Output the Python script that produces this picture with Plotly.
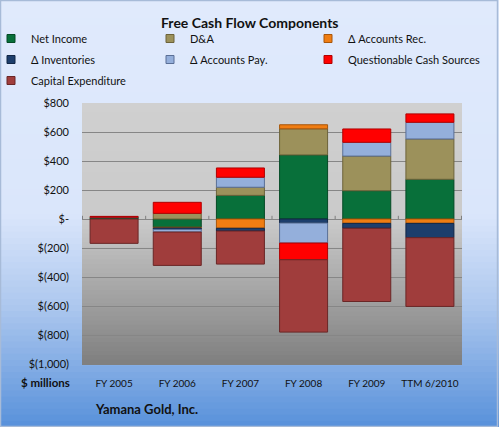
import plotly.graph_objects as go

# ── data (US$ millions) ──────────────────────────────────────
categories = ['FY 2005', 'FY 2006', 'FY 2007', 'FY 2008', 'FY 2009', 'TTM 6/2010']
net_income = [12, -57, 163, 442, 195, 274]
d_and_a = [0, 39, 56, 180, 239, 278]
accounts_rec = [0, -5, -64, 28, -30, -30]
inventories = [0, -10, -19, -28, -34, -99]
accounts_pay = [0, -18, 69, -138, 95, 115]
questionable = [6, 76, 64, -115, 92, 58]
capex = [-168, -230, -228, -499, -505, -474]

tick_vals = [800, 600, 400, 200, 0, -200, -400, -600, -800, -1000]
tick_text = ['$800', '$600', '$400', '$200', '$-', '$(200)', '$(400)',
             '$(600)', '$(800)', '$(1,000)']

# ── page geometry ────────────────────────────────────────────
W, H = 499, 427
L, R, T, B = 82, 37, 103, 63
PW, PH = W - L - R, H - T - B
FONT = 'Lato'


def px_x(px):
    return (px - L) / PW


def px_y(py):
    return (H - B - py) / PH


def mix(stops, f):
    for (f0, c0), (f1, c1) in zip(stops, stops[1:]):
        if f <= f1:
            t = 0 if f1 == f0 else (f - f0) / (f1 - f0)
            rgb = [round(a + (b - a) * t) for a, b in zip(c0, c1)]
            return 'rgb({},{},{})'.format(*rgb)
    return 'rgb({},{},{})'.format(*stops[-1][1])


series = [
    ('Net Income', net_income, '#08703a', '#044a25', 'legend'),
    ('D&A', d_and_a, '#9c915b', '#6c633a', 'legend2'),
    ('Δ Accounts Rec.', accounts_rec, '#f07d12', '#a8560a', 'legend3'),
    ('Δ Inventories', inventories, '#1d3e6c', '#112645', 'legend'),
    ('Δ Accounts Pay.', accounts_pay, '#94afdb', '#5a6f96', 'legend2'),
    ('Questionable Cash Sources', questionable, '#ff0000', '#b00000', 'legend3'),
    ('Capital Expenditure', capex, '#a03d3c', '#6a2626', 'legend'),
]

fig = go.Figure()
for name, vals, color, edge, leg in series:
    fig.add_trace(go.Bar(
        x=categories, y=vals, name=name, marker_color=color,
        marker_line=dict(color=edge, width=1), showlegend=False,
        legendgroup=name,
    ))
# small square legend keys (Excel style)
for name, vals, color, edge, leg in series:
    fig.add_trace(go.Scatter(
        x=[None], y=[None], mode='markers', name=name, legend=leg,
        legendgroup=name,
        marker=dict(symbol='square', size=8, color=color,
                    line=dict(color=edge, width=1)),
    ))

shapes = []
# figure background gradient
bg_stops = [(0, (224, 234, 252)), (0.5, (218, 230, 251)),
            (0.72, (172, 199, 238)), (1, (88, 145, 219))]
n = 70
for i in range(n):
    y0, y1 = H * i / n, H * (i + 1) / n + 1
    shapes.append(dict(type='rect', xref='paper', yref='paper', layer='below',
                       x0=px_x(0), x1=px_x(W), y0=px_y(y1), y1=px_y(y0),
                       fillcolor=mix(bg_stops, (i + 0.5) / n), line_width=0))
# plot-area gradient
pa_stops = [(0, (208, 208, 208)), (0.45, (202, 202, 202)), (1, (127, 127, 127))]
m = 60
for i in range(m):
    shapes.append(dict(type='rect', xref='paper', yref='paper', layer='below',
                       x0=0, x1=1, y0=1 - (i + 1) / m - 0.004, y1=1 - i / m,
                       fillcolor=mix(pa_stops, (i + 0.5) / m), line_width=0))
# small ticks on the category axis
for k in range(len(categories) + 1):
    shapes.append(dict(type='line', xref='x', yref='y', x0=k - 0.5, x1=k - 0.5,
                       y0=0, y1=22, line=dict(color='#7f7f7f', width=1)))
# outer frame
shapes.append(dict(type='rect', xref='paper', yref='paper',
                   x0=px_x(0.5), x1=px_x(W - 1.5), y0=px_y(H - 0.5), y1=px_y(0.5),
                   line=dict(color='#a7bbd8', width=1.5)))

annotations = [
    dict(text='<b>Free Cash Flow Components</b>', x=px_x(W / 2), y=px_y(22),
         xref='paper', yref='paper', showarrow=False, xanchor='center', yanchor='middle',
         font=dict(family=FONT, size=14, color='#111111')),
    dict(text='<b>$ millions</b>', x=px_x(72), y=px_y(382),
         xref='paper', yref='paper', showarrow=False, xanchor='right', yanchor='middle',
         font=dict(family=FONT, size=11.5, color='#111111')),
    dict(text='<b>Yamana Gold, Inc.</b>', x=px_x(93), y=px_y(409),
         xref='paper', yref='paper', showarrow=False, xanchor='left', yanchor='middle',
         font=dict(family=FONT, size=13, color='#111111')),
]

legend_style = dict(orientation='v', yanchor='top', xanchor='left',
                    bgcolor='rgba(0,0,0,0)', traceorder='grouped', tracegroupgap=2,
                    font=dict(family=FONT, size=11, color='#111111'),
                    itemclick=False, itemdoubleclick=False)

fig.update_layout(
    width=W, height=H,
    margin=dict(l=L, r=R, t=T, b=B, autoexpand=False),
    barmode='relative', bargap=0.24,
    paper_bgcolor='#dfe9fc', plot_bgcolor='rgba(0,0,0,0)',
    font=dict(family=FONT, size=11, color='#111111'),
    shapes=shapes, annotations=annotations,
    legend=dict(x=px_x(-9), y=px_y(24), **legend_style),
    legend2=dict(x=px_x(150), y=px_y(24), **legend_style),
    legend3=dict(x=px_x(308), y=px_y(24), **legend_style),
    xaxis=dict(showgrid=False, ticks='', showline=False, ticklabelstandoff=12,
               tickfont=dict(family=FONT, size=10, color='#111111')),
    yaxis=dict(range=[-1000, 800], tickvals=tick_vals, ticktext=tick_text,
               showgrid=True, gridcolor='#868686', gridwidth=1,
               zeroline=True, zerolinecolor='#868686', zerolinewidth=1,
               showline=False, ticks='', ticklabelstandoff=12,
               tickfont=dict(family=FONT, size=11, color='#111111')),
)

fig.write_html('out.html', config={'displayModeBar': False},
               post_script="document.body.style.margin='0';")
